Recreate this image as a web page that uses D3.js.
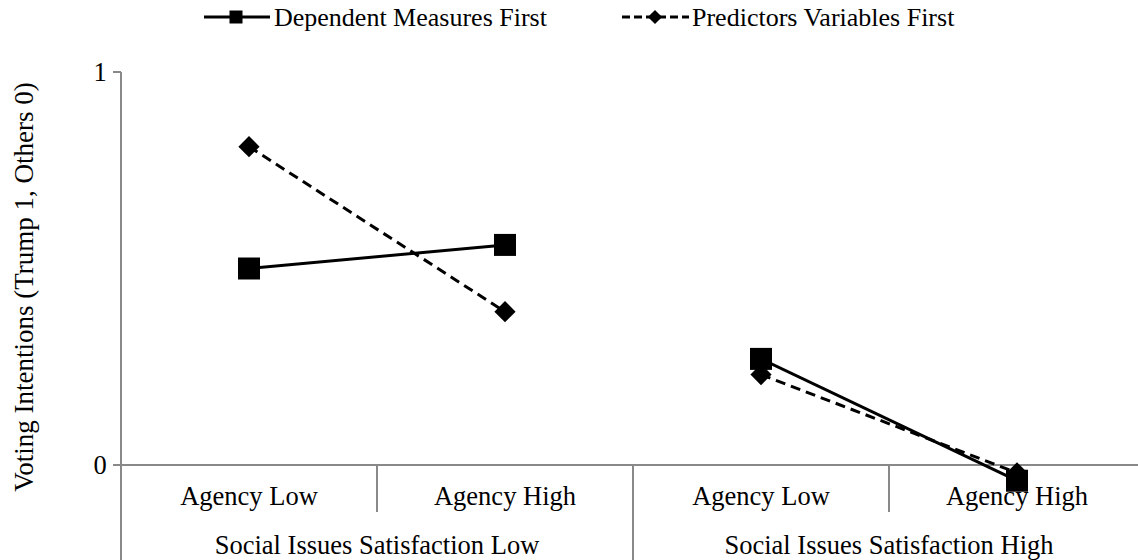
<!DOCTYPE html>
<html>
<head>
<meta charset="utf-8">
<script src="https://cdn.jsdelivr.net/npm/d3@7"></script>
<style>
  body { margin: 0; background: #fff; }
  text { font-family: "Liberation Serif", "Times New Roman", serif; fill: #000; }
</style>
</head>
<body>
<div class="chart"></div>
<script>
// chart data
var agencyLabels = ["Agency Low", "Agency High", "Agency Low", "Agency High"];
var groupLabels = ["Social Issues Satisfaction Low", "Social Issues Satisfaction High"];
var seriesNames = ["Dependent Measures First", "Predictors Variables First"];
var dependentFirst = [0.50, 0.56, 0.27, -0.04];
var predictorsFirst = [0.81, 0.39, 0.23, -0.02];
var yTicks = [0, 1];

var width = 1138, height = 560;
var fontSize = 26.5;

var svg = d3.select(".chart").append("svg")
    .attr("width", width)
    .attr("height", height);

// set the ranges
var x = d3.scaleBand().domain(d3.range(agencyLabels.length)).range([121, 1145]);
var y = d3.scaleLinear().domain([0, 1]).range([465, 72]);
var gx = d3.scaleBand().domain(d3.range(groupLabels.length)).range([121, 1145]);

var axisColor = "#898989";

// y axis line
svg.append("line")
    .attr("x1", 121).attr("x2", 121)
    .attr("y1", y(1)).attr("y2", height)
    .attr("stroke", axisColor).attr("stroke-width", 2);

// y ticks
yTicks.forEach(function(t) {
    svg.append("line")
        .attr("x1", 113).attr("x2", 121)
        .attr("y1", y(t)).attr("y2", y(t))
        .attr("stroke", axisColor).attr("stroke-width", 2);
    svg.append("text")
        .text(t)
        .attr("x", 100).attr("y", y(t))
        .attr("dy", "0.35em")
        .attr("text-anchor", "middle")
        .style("font-size", fontSize + "px");
});

// x axis at zero
svg.append("line")
    .attr("x1", 113).attr("x2", width)
    .attr("y1", y(0)).attr("y2", y(0))
    .attr("stroke", axisColor).attr("stroke-width", 2);

// dividers between agency labels
agencyLabels.forEach(function(d, i) {
    if (i == 0) return;
    var isGroup = (i % 2 == 0);
    svg.append("line")
        .attr("x1", x(i)).attr("x2", x(i))
        .attr("y1", y(0)).attr("y2", isGroup ? height : 512)
        .attr("stroke", axisColor).attr("stroke-width", 2);
});

// agency labels
svg.selectAll(".agency")
    .data(agencyLabels)
    .enter().append("text")
    .text(function(d) { return d; })
    .attr("x", function(d, i) { return x(i) + x.bandwidth() / 2; })
    .attr("y", 496)
    .attr("dy", "0.35em")
    .attr("text-anchor", "middle")
    .style("font-size", fontSize + "px");

// group labels
svg.selectAll(".group")
    .data(groupLabels)
    .enter().append("text")
    .text(function(d) { return d; })
    .attr("x", function(d, i) { return gx(i) + gx.bandwidth() / 2; })
    .attr("y", 545)
    .attr("dy", "0.35em")
    .attr("text-anchor", "middle")
    .style("font-size", fontSize + "px");

// y axis title
svg.append("text")
    .text("Voting Intentions (Trump 1, Others 0)")
    .attr("text-anchor", "middle")
    .attr("dy", "0.35em")
    .attr("transform", "translate(24," + 287 + ") rotate(-90)")
    .style("font-size", "27px");

var cx = function(d, i) { return x(i) + x.bandwidth() / 2; };

// each group gets its own segment
var segments = function(values) {
    return [[0, 1], [2, 3]].map(function(p) {
        return p.map(function(i) { return {i: i, v: values[i]}; });
    });
};

var valueline = d3.line()
    .x(function(d) { return cx(d, d.i); })
    .y(function(d) { return y(d.v); });

var square = d3.symbol().type(d3.symbolSquare).size(22 * 22);
var diamond = d3.symbol().type(d3.symbolSquare).size(15 * 15);

// predictors first (dashed, diamonds)
svg.selectAll(".pline")
    .data(segments(predictorsFirst))
    .enter().append("path")
    .attr("d", valueline)
    .attr("fill", "none")
    .attr("stroke", "#000")
    .attr("stroke-width", 3)
    .attr("stroke-dasharray", "10,6");

svg.selectAll(".diamond")
    .data(predictorsFirst)
    .enter().append("path")
    .attr("d", diamond)
    .attr("transform", function(d, i) { return "translate(" + cx(d, i) + "," + y(d) + ") rotate(45)"; })
    .attr("fill", "#000");

// dependent first (solid, squares)
svg.selectAll(".dline")
    .data(segments(dependentFirst))
    .enter().append("path")
    .attr("d", valueline)
    .attr("fill", "none")
    .attr("stroke", "#000")
    .attr("stroke-width", 3);

svg.selectAll(".square")
    .data(dependentFirst)
    .enter().append("path")
    .attr("d", square)
    .attr("transform", function(d, i) { return "translate(" + cx(d, i) + "," + y(d) + ")"; })
    .attr("fill", "#000");

// legend
var legend = svg.append("g");
var legendY = 17;
var legendFont = 26;

legend.append("line")
    .attr("x1", 204).attr("x2", 270)
    .attr("y1", legendY).attr("y2", legendY)
    .attr("stroke", "#000").attr("stroke-width", 3);
legend.append("path")
    .attr("d", d3.symbol().type(d3.symbolSquare).size(13 * 13))
    .attr("transform", "translate(236," + legendY + ")");
legend.append("text")
    .text(seriesNames[0])
    .attr("x", 274).attr("y", legendY)
    .attr("dy", "0.35em")
    .style("font-size", legendFont + "px");

legend.append("line")
    .attr("x1", 622).attr("x2", 689)
    .attr("y1", legendY).attr("y2", legendY)
    .attr("stroke", "#000").attr("stroke-width", 3)
    .attr("stroke-dasharray", "8,4");
legend.append("path")
    .attr("d", d3.symbol().type(d3.symbolSquare).size(10 * 10))
    .attr("transform", "translate(655," + legendY + ") rotate(45)");
legend.append("text")
    .text(seriesNames[1])
    .attr("x", 692).attr("y", legendY)
    .attr("dy", "0.35em")
    .style("font-size", legendFont + "px");
</script>
</body>
</html>
